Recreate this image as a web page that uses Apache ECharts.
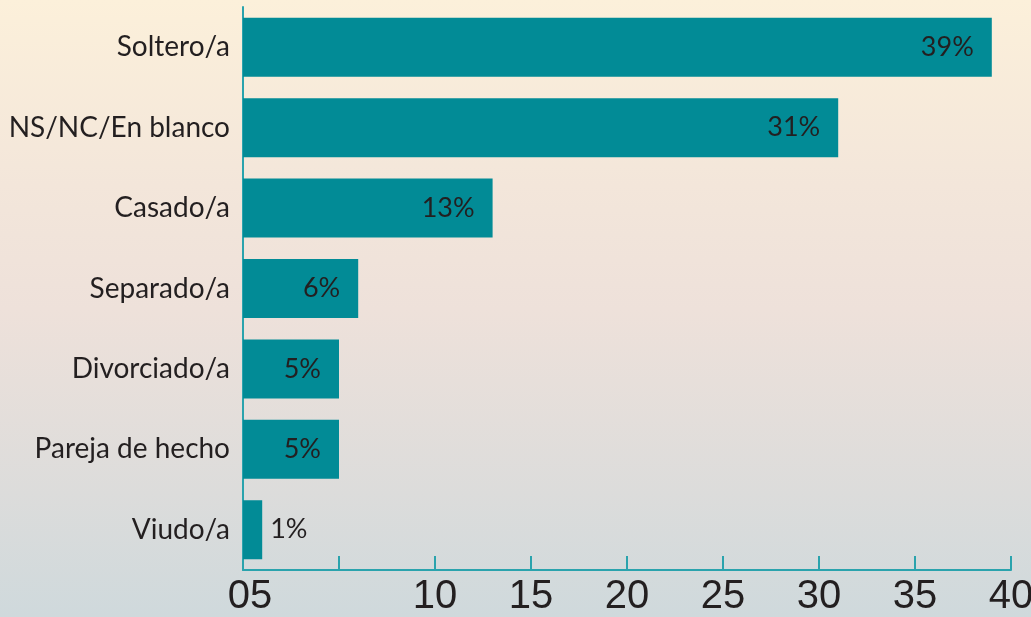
<!DOCTYPE html>
<html>
<head>
<meta charset="utf-8">
<script src="https://cdn.jsdelivr.net/npm/echarts@6/dist/echarts.min.js"></script>
<style>
html,body{margin:0;padding:0;width:1031px;height:617px;overflow:hidden;}
body{background:linear-gradient(180deg,#fcf0da 0%,#f3e6da 30%,#eee1da 50%,#dcdcdb 80%,#cfd9dc 100%);}
#c{width:1031px;height:617px;}
</style>
</head>
<body>
<div id="c"></div>
<script>
const categories = ["Soltero/a","NS/NC/En blanco","Casado/a","Separado/a","Divorciado/a","Pareja de hecho","Viudo/a"];
const values = [39,31,13,6,5,5,1];
const tickLabels = ["05","","10","15","20","25","30","35","40"];

const chart = echarts.init(document.getElementById('c'), null, {renderer:'canvas'});
const teal = '#028b96';
const axisTeal = '#2aa3ad';
chart.setOption({
  backgroundColor: 'transparent',
  animation: false,
  grid: {left: 243, right: 20, top: 7, bottom: 47, containLabel: false, outerBoundsMode: 'none'},
  xAxis: {
    type: 'value', min: 0, max: 40, interval: 5,
    splitLine: {show: false},
    axisLine: {show: true, lineStyle: {color: axisTeal, width: 2}},
    axisTick: {show: true, inside: true, length: 14, lineStyle: {color: axisTeal, width: 2}},
    axisLabel: {
      margin: 7, hideOverlap: false,
      fontFamily: '"Liberation Sans Narrow","Liberation Sans",sans-serif',
      fontSize: 40, color: '#231f20',
      formatter: function(v){ const i = Math.round(v/5); return i===0 ? '{f|' + tickLabels[0] + '}' : tickLabels[i]; },
      rich: {f: {fontFamily: '"Liberation Sans Narrow","Liberation Sans",sans-serif', fontSize: 40, color: '#231f20', padding: [0,0,0,14]}}
    }
  },
  yAxis: {
    type: 'category', data: categories, inverse: true,
    axisLine: {show: true, lineStyle: {color: axisTeal, width: 2}},
    axisTick: {show: false},
    axisLabel: {margin: 13, fontFamily: 'Lato, sans-serif', fontSize: 28, color: '#231f20'}
  },
  series: [{
    type: 'bar',
    barWidth: 59,
    itemStyle: {color: teal},
    data: values.map(function(v){
      return v < 3 ? {value: v, label: {position: 'right', distance: 8}} : {value: v};
    }),
    label: {
      show: true, position: 'insideRight', distance: 18,
      fontFamily: 'Lato, sans-serif', fontSize: 27, color: '#231f20',
      formatter: '{c}%'
    }
  }]
});
</script>
</body>
</html>
